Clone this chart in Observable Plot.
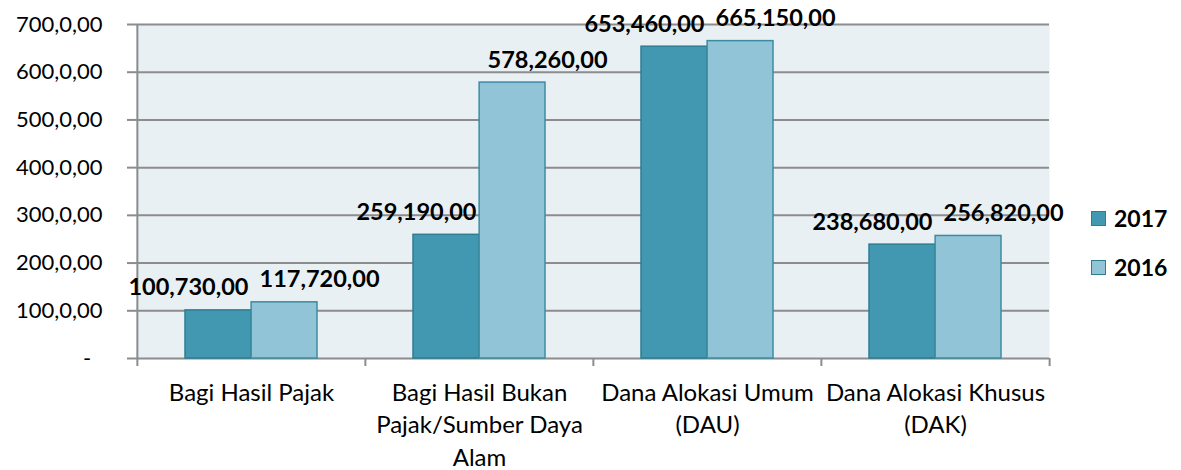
<!DOCTYPE html>
<html>
<head>
<meta charset="utf-8">
<script src="https://cdn.jsdelivr.net/npm/d3@7"></script>
<script src="https://cdn.jsdelivr.net/npm/@observablehq/plot@0.6"></script>
<style>
  html, body { margin: 0; padding: 0; background: #ffffff; }
  #wrap { position: relative; width: 1181px; height: 470px; font-family: Lato, "Open Sans", sans-serif; }
  #legend { position: absolute; left: 1091px; top: 204px; font-weight: bold; font-size: 23px; color: #000; }
  .item { display: flex; align-items: center; height: 28px; margin-bottom: 21px; }
  .sw { width: 13px; height: 13px; margin-right: 8px; border: 1.5px solid #2e7d93; }
</style>
</head>
<body>
<div id="wrap"></div>
<script>
const categories = ["Bagi Hasil Pajak", "Bagi Hasil Bukan Pajak/Sumber Daya Alam", "Dana Alokasi Umum (DAU)", "Dana Alokasi Khusus (DAK)"];
const categoryTickLabels = ["Bagi Hasil Pajak", "Bagi Hasil Bukan\nPajak/Sumber Daya\nAlam", "Dana Alokasi Umum\n(DAU)", "Dana Alokasi Khusus\n(DAK)"];
const series = ["2017", "2016"];
const values2017 = [100730, 259190, 653460, 238680];
const values2016 = [117720, 578260, 665150, 256820];
const yTicks = [0, 100000, 200000, 300000, 400000, 500000, 600000, 700000];
const yTickLabels = ["-\u00a0\u00a0", "100,0,00", "200,0,00", "300,0,00", "400,0,00", "500,0,00", "600,0,00", "700,0,00"];

const colors = {"2017": "#4298b1", "2016": "#92c4d7"};
const strokes = {"2017": "#2e7d93", "2016": "#3b8ca3"};

const fmt = v => d3.format(",")(v) + ",00";
const rows = (vals, s) => vals.map((v, i) => ({category: categories[i], series: s, value: v, label: fmt(v)}));
const d2017 = rows(values2017, "2017");
const d2016 = rows(values2016, "2016");

const W = 1181, H = 470, mL = 136, mR = 132, mT = 24, mB = 112;
const band = (W - mL - mR) / categories.length;
const gap = 48, barW = (band - 2 * gap) / 2;
const grid = "#8c8c8c";
const font = "Lato, 'Open Sans', sans-serif";

const chart = Plot.plot({
  width: W, height: H,
  marginLeft: mL, marginRight: mR, marginTop: mT, marginBottom: mB,
  style: {fontFamily: font, color: "#000", background: "transparent"},
  x: {domain: categories, padding: 0, axis: null, label: null},
  y: {domain: [0, 700000], axis: null, label: null},
  marks: [
    Plot.frame({fill: "#e9f0f4", stroke: null}),
    Plot.ruleY(yTicks, {y: d => d, stroke: grid, strokeWidth: 2}),
    Plot.ruleX([categories[0]], {x: d => d, dx: -band / 2, stroke: grid, strokeWidth: 2}),
    Plot.axisY({ticks: yTicks, label: null, tickFormat: d => yTickLabels[yTicks.indexOf(d)], tickSize: 9, tickPadding: 25, stroke: grid, strokeWidth: 2, fontSize: 22, fill: "#000"}),
    Plot.axisX({ticks: categories, label: null, tickSize: 8, text: null, dx: -band / 2, stroke: grid, strokeWidth: 2}),
    Plot.axisX({ticks: [categories[categories.length - 1]], label: null, tickSize: 8, text: null, dx: band / 2, stroke: grid, strokeWidth: 2}),
    Plot.barY(d2017, {x: "category", y: "value", fill: colors["2017"], stroke: strokes["2017"], strokeWidth: 1.5, insetLeft: gap, insetRight: gap + barW}),
    Plot.barY(d2016, {x: "category", y: "value", fill: colors["2016"], stroke: strokes["2016"], strokeWidth: 1.5, insetLeft: gap + barW, insetRight: gap}),
    Plot.text(d2017, {x: "category", y: "value", text: "label", dx: -(band / 2 - gap - barW / 2) - 30, dy: -15, lineAnchor: "bottom", fontWeight: "bold", fontSize: 23.5, fill: "#000"}),
    Plot.text(d2016, {x: "category", y: "value", text: "label", dx: (band / 2 - gap - barW / 2) + 35, dy: -15, lineAnchor: "bottom", fontWeight: "bold", fontSize: 23.5, fill: "#000"}),
    Plot.text(categories, {x: d => d, text: (d, i) => categoryTickLabels[i], frameAnchor: "bottom", lineAnchor: "top", dy: 19, lineHeight: 1.36, fontSize: 24, fill: "#000"})
  ]
});

const wrap = document.getElementById("wrap");
wrap.appendChild(chart);
const legend = document.createElement("div");
legend.id = "legend";
legend.innerHTML = series.map(s => `<div class="item"><span class="sw" style="background:${colors[s]}"></span>${s}</div>`).join("");
wrap.appendChild(legend);
</script>
</body>
</html>
